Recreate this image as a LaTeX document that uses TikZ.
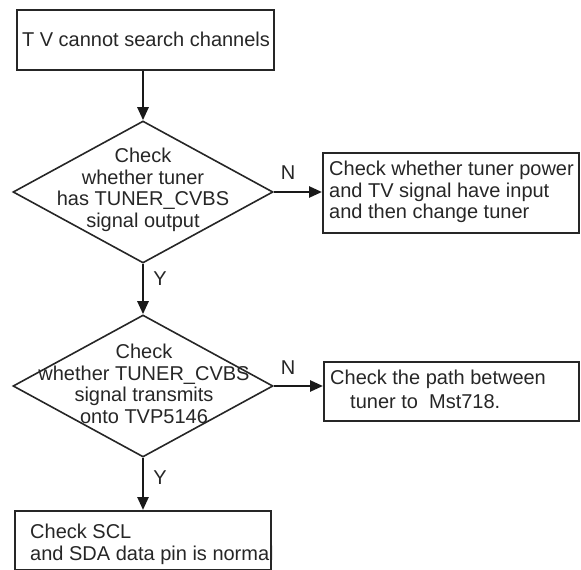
\documentclass[tikz,border=0pt]{standalone}
\usepackage{fontspec}
\setmainfont{Liberation Sans}
\usetikzlibrary{shapes.geometric,arrows.meta}
\begin{document}
\begin{tikzpicture}[x=1pt,y=-1pt,
  txt/.style={font=\fontsize{20}{21.5}\selectfont,text=black!85,inner sep=0pt},
  boxshape/.style={draw=black!85,line width=1.6pt,inner sep=0pt,anchor=north west},
  decision/.style={diamond,draw=black!85,line width=1.6pt,inner sep=0pt,minimum width=260pt,minimum height=142pt},
  flow/.style={draw=black!90,line width=2.6pt,-{Triangle[length=13pt,width=11pt]}},
  lbl/.style={font=\fontsize{20}{21.5}\selectfont,text=black!85,inner sep=0pt}]
\useasboundingbox (0,0) rectangle (581,570);
% boxes
\node[boxshape,minimum width=257pt,minimum height=60pt] (b1) at (16,9) {};
\node[txt] (t1) at (146,39) {T V cannot search channels};
\node[decision] (d1) at (143,192) {};
\node[txt,align=center] (t2) at (143,190) {Check\\whether tuner\\has TUNER\_CVBS\\signal output};
\node[boxshape,minimum width=256pt,minimum height=80pt] (b2) at (322,152) {};
\node[txt,align=left,anchor=west] (t3) at (329,192) {Check whether tuner power\\and TV signal have input\\and then change tuner};
\node[decision] (d2) at (143,386) {};
\node[txt,align=center] (t4) at (144,384) {Check\\whether TUNER\_CVBS\\signal transmits\\onto TVP5146};
\node[boxshape,minimum width=255pt,minimum height=59pt] (b3) at (323,361) {};
\node[txt,anchor=west] (t5a) at (330,379) {Check the path between};
\node[txt,anchor=west] (t5b) at (350,402) {tuner to \ Mst718.};
\node[boxshape,minimum width=256pt,minimum height=59pt] (b4) at (14,510) {};
\node[txt,anchor=west] (t6a) at (30,531) {Check SCL};
\node[txt,anchor=west] (t6b) at (30,555) {and SDA data pin is normal};
% connectors
\draw[flow] (b1.south -| d1.north) -- (d1.north);
\draw[flow] (d1.east) -- (d1.east -| b2.west);
\draw[flow] (d1.south) -- (d2.north);
\draw[flow] (d2.east) -- (d2.east -| b3.west);
\draw[flow] (d2.south) -- (b4.north -| d2.south);
% labels
\node[lbl] (n1) at (288,173) {N};
\node[lbl] (y1) at (160,279) {Y};
\node[lbl] (n2) at (288,368) {N};
\node[lbl] (y2) at (160,478) {Y};
\end{tikzpicture}
\end{document}
